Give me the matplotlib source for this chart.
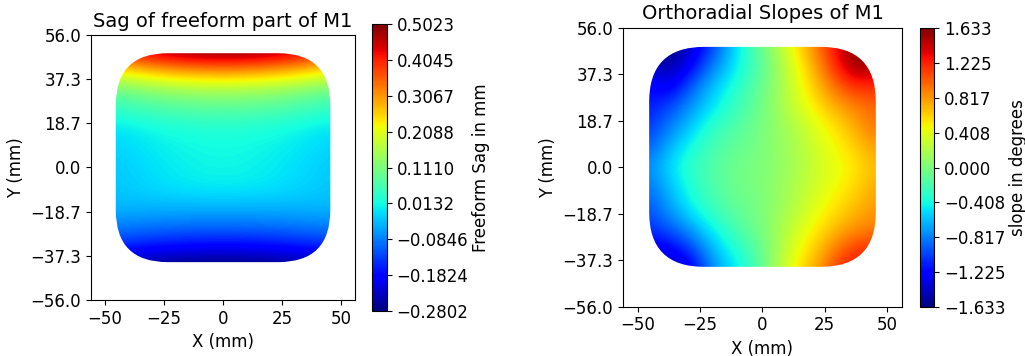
import numpy as np
import matplotlib
matplotlib.use("Agg")
import matplotlib.pyplot as plt
from matplotlib.patches import FancyBboxPatch
from matplotlib.ticker import FuncFormatter

# Sampling grid of the mirror aperture (mm)
y_rows = [48, 40, 32, 24, 16, 8, 0, -8, -16, -24, -32, -40]
x_sag = [-45, -30, -15, 0, 15, 30, 45]
x_slope = [-45, -37.5, -30, -22.5, -15, -7.5, 0, 7.5, 15, 22.5, 30, 37.5, 45]

# Freeform sag (mm), rows follow y_rows, columns follow x_sag
sag = [
    [0.3928, 0.4554, 0.4906, 0.50228, 0.4906, 0.4554, 0.3928],
    [0.2128, 0.2566, 0.2824, 0.2910, 0.2824, 0.2566, 0.2128],
    [0.0876, 0.1181, 0.1361, 0.1424, 0.1361, 0.1181, 0.0876],
    [0.0328, 0.0547, 0.0672, 0.0719, 0.0672, 0.0547, 0.0328],
    [-0.0102, 0.0093, 0.0211, 0.0250, 0.0211, 0.0093, -0.0102],
    [-0.0200, -0.0020, 0.0090, 0.0130, 0.0090, -0.0020, -0.0200],
    [-0.0280, -0.0090, 0.0050, 0.0093, 0.0050, -0.0090, -0.0280],
    [-0.0298, -0.0140, -0.0030, 0.0015, -0.0030, -0.0140, -0.0298],
    [-0.0376, -0.0376, -0.0376, -0.0376, -0.0376, -0.0376, -0.0376],
    [-0.0768, -0.0854, -0.0908, -0.0924, -0.0908, -0.0854, -0.0768],
    [-0.1394, -0.1566, -0.1675, -0.1707, -0.1675, -0.1566, -0.1394],
    [-0.2411, -0.2630, -0.2755, -0.28022, -0.2755, -0.2630, -0.2411],
]

# Orthoradial slope (degrees), rows follow y_rows, columns follow x_slope
slope = [
    [-1.6333, -1.6333, -1.470, -1.143, -0.751, -0.359, -0.065, 0.261, 0.588, 0.947, 1.339, 1.6333, 1.6333],
    [-1.372, -1.535, -1.306, -0.914, -0.621, -0.359, -0.131, 0.163, 0.490, 0.817, 1.241, 1.568, 1.470],
    [-1.208, -1.306, -0.980, -0.686, -0.457, -0.261, -0.065, 0.163, 0.425, 0.686, 0.980, 1.176, 1.176],
    [-1.143, -1.000, -0.780, -0.560, -0.359, -0.196, -0.033, 0.163, 0.359, 0.555, 0.751, 0.882, 0.980],
    [-1.045, -0.817, -0.621, -0.359, -0.229, -0.131, 0.000, 0.114, 0.245, 0.425, 0.555, 0.751, 0.947],
    [-0.914, -0.653, -0.425, -0.261, -0.147, -0.065, 0.000, 0.098, 0.212, 0.359, 0.490, 0.621, 0.784],
    [-0.751, -0.523, -0.327, -0.196, -0.098, -0.033, 0.016, 0.098, 0.196, 0.327, 0.425, 0.539, 0.686],
    [-0.849, -0.621, -0.392, -0.229, -0.114, -0.033, 0.016, 0.114, 0.229, 0.359, 0.474, 0.588, 0.751],
    [-0.947, -0.719, -0.490, -0.294, -0.163, -0.065, 0.000, 0.131, 0.261, 0.425, 0.555, 0.686, 0.817],
    [-1.045, -0.914, -0.719, -0.490, -0.294, -0.131, 0.000, 0.180, 0.359, 0.523, 0.686, 0.817, 0.882],
    [-1.306, -1.241, -1.045, -0.719, -0.457, -0.261, -0.065, 0.196, 0.457, 0.653, 0.914, 1.111, 1.176],
    [-1.470, -1.470, -1.372, -0.914, -0.588, -0.392, -0.098, 0.261, 0.555, 0.784, 1.143, 1.306, 1.306],
]

# Aperture outline: rounded rectangle (mm)
ap_x0, ap_x1 = -45.5, 45.5
ap_y0, ap_y1 = -40.0, 48.3
ap_corner = 22.0

half_lim = 56.0


def minus(fmt):
    return FuncFormatter(lambda v, pos: (fmt % v).replace("-", "\u2212"))


def draw_map(ax, cax, xs, values, title, cbar_label, fmt):
    z = np.array(values)
    dx = xs[1] - xs[0]
    dy = y_rows[0] - y_rows[1]
    extent = (xs[0] - dx / 2, xs[-1] + dx / 2, y_rows[-1] - dy / 2, y_rows[0] + dy / 2)
    vmin, vmax = z.min(), z.max()
    im = ax.imshow(z, cmap="jet", vmin=vmin, vmax=vmax, extent=extent, origin="upper",
                   interpolation="bicubic", interpolation_stage="data", aspect="auto")
    aperture = FancyBboxPatch((ap_x0, ap_y0), ap_x1 - ap_x0, ap_y1 - ap_y0,
                              boxstyle=f"round,pad=0,rounding_size={ap_corner}",
                              transform=ax.transData, facecolor="none", edgecolor="none")
    ax.add_patch(aperture)
    im.set_clip_path(aperture)

    ax.set_xlim(-half_lim, half_lim)
    ax.set_ylim(-half_lim, half_lim)
    ax.set_yticks(np.linspace(-half_lim, half_lim, 7))
    ax.yaxis.set_major_formatter(minus("%.1f"))
    ax.set_xlabel("X (mm)", fontsize=12)
    ax.set_ylabel("Y (mm)", fontsize=12)
    ax.set_title(title, fontsize=14)
    ax.tick_params(labelsize=12)

    cb = plt.colorbar(im, cax=cax, ticks=np.linspace(vmin, vmax, 9))
    cb.ax.yaxis.set_major_formatter(minus(fmt))
    cb.ax.tick_params(labelsize=12)
    cb.set_label(cbar_label, fontsize=12, labelpad=2.5)
    cb.outline.set_linewidth(0.8)


fig = plt.figure(figsize=(10.25, 3.56), dpi=100)
ax1 = fig.add_axes([0.0888, 0.1573, 0.2576, 0.7444])
cax1 = fig.add_axes([0.3629, 0.1272, 0.0146, 0.8045])
ax2 = fig.add_axes([0.6078, 0.1385, 0.2722, 0.7837])
cax2 = fig.add_axes([0.8976, 0.1376, 0.0137, 0.7837])

draw_map(ax1, cax1, x_sag, sag, "Sag of freeform part of M1", "Freeform Sag in mm", "%.4f")
draw_map(ax2, cax2, x_slope, slope, "Orthoradial Slopes of M1", "slope in degrees", "%.3f")

fig.savefig("out.png", dpi=100)
